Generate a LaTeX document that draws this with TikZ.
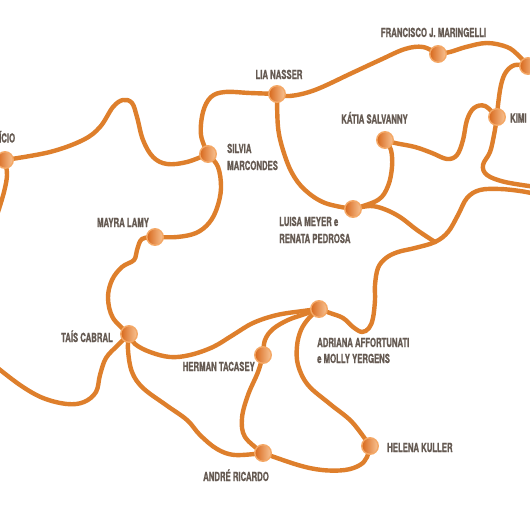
\documentclass[tikz,border=0pt]{standalone}
\usepackage{fontspec}
\newfontfamily\lblfont{TeX Gyre Heros}[FakeStretch=0.62,FakeBold=0.9]
\usetikzlibrary{backgrounds}
\definecolor{edgec}{HTML}{DE7F2C}
\definecolor{ringc}{HTML}{F4A866}
\definecolor{dotL}{HTML}{D8681C}
\definecolor{dotM}{HTML}{E5863C}
\definecolor{dotR}{HTML}{F8C495}
\definecolor{txtc}{HTML}{655A52}
\tikzset{
  edge/.style={draw=edgec, line width=4.4pt, line cap=round, line join=round},
  dot/.style={circle, minimum size=16.5pt, inner sep=0pt, draw=ringc, line width=1.4pt,
    left color=dotL, middle color=dotM, right color=dotR},
  lbl/.style={inner sep=0pt, text=txtc, font=\lblfont\bfseries\fontsize{12.5}{15}\selectfont},
}
\begin{document}
\begin{tikzpicture}[x=1pt,y=-1pt]
\useasboundingbox (0,0) rectangle (530,530);
% nodes
\node[dot] (ico) at (5,160) {};
\node[dot] (sil) at (208,154) {};
\node[dot] (lia) at (277,94) {};
\node[dot] (fra) at (438,54) {};
\node[dot] (tr) at (528,66) {};
\node[dot] (kimi) at (497,117) {};
\node[dot] (kat) at (385,140) {};
\node[dot] (lui) at (353,209) {};
\node[dot] (may) at (155,237) {};
\node[dot] (tai) at (129,334) {};
\node[dot] (her) at (263,355) {};
\node[dot] (adr) at (319,309) {};
\node[dot] (hel) at (370,446) {};
\node[dot] (and) at (263,453) {};
\coordinate (J) at (435,242);
\coordinate (exIco) at (-2,212);
\coordinate (exTai) at (-6,365);
\coordinate (exAdr) at (536,194);
\coordinate (exKimi) at (536,187);
% labels
\node[lbl, anchor=base west] (lico) at (-1,142.5) {ÍCIO};
\node[lbl, anchor=base west] (lsil1) at (227,153) {SILVIA};
\node[lbl, anchor=base west] (lsil2) at (227,170) {MARCONDES};
\node[lbl, anchor=base] (llia) at (279,79) {LIA NASSER};
\node[lbl, anchor=base] (lfra) at (433.5,37) {FRANCISCO J. MARINGELLI};
\node[lbl, anchor=base west] (lkimi) at (510,122.5) {KIMI};
\node[lbl, anchor=base] (lkat) at (374.5,123.5) {KÁTIA SALVANNY};
\node[lbl, anchor=base west] (llui1) at (279,226) {LUISA MEYER e};
\node[lbl, anchor=base west] (llui2) at (279,243) {RENATA PEDROSA};
\node[lbl, anchor=base] (lmay) at (123,227) {MAYRA LAMY};
\node[lbl, anchor=base east] (ltai) at (113,342) {TAÍS CABRAL};
\node[lbl, anchor=base east] (lher) at (255,371) {HERMAN TACASEY};
\node[lbl, anchor=base west] (ladr1) at (317,347) {ADRIANA AFFORTUNATI};
\node[lbl, anchor=base west] (ladr2) at (317,363) {e MOLLY YERGENS};
\node[lbl, anchor=base west] (lhel) at (387,452) {HELENA KULLER};
\node[lbl, anchor=base] (land) at (236,481) {ANDRÉ RICARDO};
% edges
\begin{pgfonlayer}{background}
\fill[white] (0,0) rectangle (530,530);
\draw[edge] plot[smooth, tension=0.6] coordinates {(ico.center) (50,152) (83,140) (100,127) (113,107) (123,100) (132,103) (137,117) (143,140) (153,157) (167,164) (187,162) (sil.center)};
\draw[edge] plot[smooth, tension=0.6] coordinates {(ico.center) (7,175) (4,192) (exIco)};
\draw[edge] plot[smooth, tension=0.6] coordinates {(sil.center) (201,135) (203,112) (211,97) (225,92) (250,93) (lia.center)};
\draw[edge] plot[smooth, tension=0.6] coordinates {(sil.center) (218,167) (221,188) (217,208) (209,223) (196,233) (177,237) (may.center)};
\draw[edge] plot[smooth, tension=0.6] coordinates {(may.center) (142,239) (137,250) (134,260) (122,267) (112,280) (108,298) (113,318) (tai.center)};
\draw[edge] plot[smooth, tension=0.6] coordinates {(tai.center) (118,345) (106,358) (100,375) (96,392) (84,402) (67,404) (43,398) (20,385) (exTai)};
\draw[edge] plot[smooth, tension=0.6] coordinates {(tai.center) (128,350) (132,372) (143,388) (166,405) (187,420) (200,435) (217,449) (235,455) (and.center)};
\draw[edge] plot[smooth, tension=0.6] coordinates {(tai.center) (135,344) (150,352) (170,357) (190,355) (213,347) (233,335) (253,323) (277,315) (303,311) (adr.center)};
\draw[edge] plot[smooth, tension=0.6] coordinates {(her.center) (265,340) (273,329) (288,320) (305,314) (adr.center)};
\draw[edge] plot[smooth, tension=0.6] coordinates {(her.center) (258,372) (248,395) (242,418) (245,437) (and.center)};
\draw[edge] plot[smooth, tension=0.6] coordinates {(adr.center) (309,318) (301,330) (297,346) (298,365) (308,385) (330,404) (352,422) (hel.center)};
\draw[edge] plot[smooth, tension=0.6] coordinates {(hel.center) (367,457) (360,465) (345,470) (322,470) (298,465) (and.center)};
\draw[edge] plot[smooth, tension=0.6] coordinates {(adr.center) (330,313) (343,318) (353,327) (362,332) (369,328) (373,318) (375,300) (375,285) (378,268) (386,258) (398,252) (415,248) (J) (448,232) (458,215) (467,198) (480,190) (500,189) (520,191) (exAdr)};
\draw[edge] plot[smooth, tension=0.6] coordinates {(lui.center) (370,206) (384,209) (400,217) (417,230) (J)};
\draw[edge] plot[smooth, tension=0.6] coordinates {(lia.center) (278,127) (283,150) (292,173) (305,190) (325,203) (lui.center)};
\draw[edge] plot[smooth, tension=0.6] coordinates {(kat.center) (391,150) (392,167) (388,186) (378,200) (lui.center)};
\draw[edge] plot[smooth, tension=0.6] coordinates {(kat.center) (395,143) (415,147) (432,153) (447,159) (457,155) (463,140) (467,120) (474,108) (485,106) (kimi.center)};
\draw[edge] plot[smooth, tension=0.6] coordinates {(kimi.center) (498,105) (501,85) (506,72) (515,65) (tr.center)};
\draw[edge] plot[smooth, tension=0.6] coordinates {(fra.center) (450,52) (466,47) (487,43) (507,47) (518,55) (tr.center)};
\draw[edge] plot[smooth, tension=0.6] coordinates {(lia.center) (290,96) (315,90) (352,73) (380,60) (405,49) (423,47) (fra.center)};
\draw[edge] plot[smooth, tension=0.6] coordinates {(kimi.center) (494,135) (490,152) (483,165) (487,175) (505,182) (exKimi)};
\end{pgfonlayer}
\end{tikzpicture}
\end{document}
